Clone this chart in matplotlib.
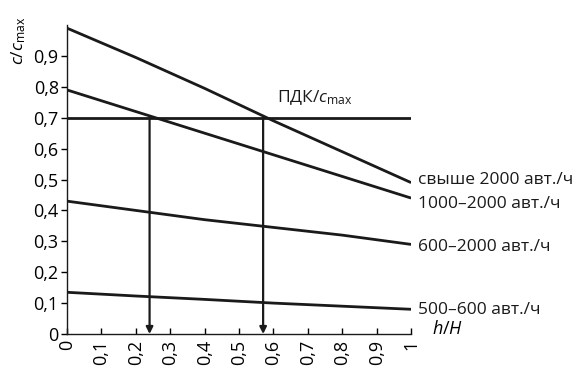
import matplotlib
matplotlib.use("Agg")
import matplotlib.pyplot as plt

plt.rcParams['font.family'] = ['Open Sans', 'DejaVu Sans']
plt.rcParams['font.size'] = 12
plt.rcParams['mathtext.fontset'] = 'custom'
plt.rcParams['mathtext.rm'] = 'Open Sans'
plt.rcParams['mathtext.it'] = 'Open Sans:italic'

# relative height h/H
h_rel = [0.0, 0.2, 0.4, 0.6, 0.8, 1.0]

# relative concentration c/c_max for each traffic intensity
c_over_2000 = [0.99, 0.895, 0.795, 0.69, 0.59, 0.49]
c_1000_2000 = [0.79, 0.72, 0.65, 0.58, 0.51, 0.44]
c_600_2000 = [0.43, 0.40, 0.37, 0.345, 0.32, 0.29]
c_500_600 = [0.135, 0.123, 0.112, 0.10, 0.09, 0.08]

series_names = ['свыше 2000 авт./ч', '1000–2000 авт./ч',
                '600–2000 авт./ч', '500–600 авт./ч']
label_y = [0.50, 0.42, 0.28, 0.078]

pdk_level = 0.7
crossings = [0.24, 0.57]

y_ticks = [0, 0.1, 0.2, 0.3, 0.4, 0.5, 0.6, 0.7, 0.8, 0.9]
x_ticks = [0, 0.1, 0.2, 0.3, 0.4, 0.5, 0.6, 0.7, 0.8, 0.9, 1]


def fmt(v):
    s = f"{v:g}"
    return s.replace('.', ',')


fig = plt.figure(figsize=(5.79, 3.70), dpi=100)
ax = fig.add_axes([0.1157, 0.0973, 0.5943, 0.835])

for ys in (c_over_2000, c_1000_2000, c_600_2000, c_500_600):
    ax.plot(h_rel, ys, color='#1a1a1a', lw=2.0, solid_capstyle='butt')

ax.plot([0, 1], [pdk_level, pdk_level], color='#1a1a1a', lw=2.0)

for xc in crossings:
    ax.annotate('', xy=(xc, 0), xytext=(xc, pdk_level),
                arrowprops=dict(arrowstyle='-|>', color='#1a1a1a', lw=1.6,
                                mutation_scale=10, shrinkA=0, shrinkB=0))

for name, yl in zip(series_names, label_y):
    ax.text(1.02, yl, name, ha='left', va='center', fontsize=12.5,
            color='#1a1a1a', clip_on=False)

ax.text(0.61, 0.735, r'ПДК/$c_{\mathrm{max}}$', ha='left', va='bottom',
        fontsize=12.5, color='#1a1a1a')

ax.set_xlim(0, 1)
ax.set_ylim(0, 1.0)
ax.set_yticks(y_ticks)
ax.set_yticklabels([fmt(v) for v in y_ticks], fontsize=13)
ax.set_xticks(x_ticks)
ax.set_xticklabels([fmt(v) for v in x_ticks], fontsize=13, rotation=90)
ax.tick_params(axis='y', direction='out', length=4, width=1, pad=2)
ax.tick_params(axis='x', direction='in', length=4, width=1, pad=4)

ax.spines['top'].set_visible(False)
ax.spines['right'].set_visible(False)
for sp in ('left', 'bottom'):
    ax.spines[sp].set_linewidth(1.0)
    ax.spines[sp].set_color('#1a1a1a')

fig.text(0.032, 0.955, r'$c/c_{\mathrm{max}}$', rotation=90, ha='center',
         va='top', fontsize=12.5)
fig.text(0.746, 0.112, r'$h/H$', ha='left', va='center', fontsize=13)

fig.savefig('out.png', dpi=100, facecolor='white')
